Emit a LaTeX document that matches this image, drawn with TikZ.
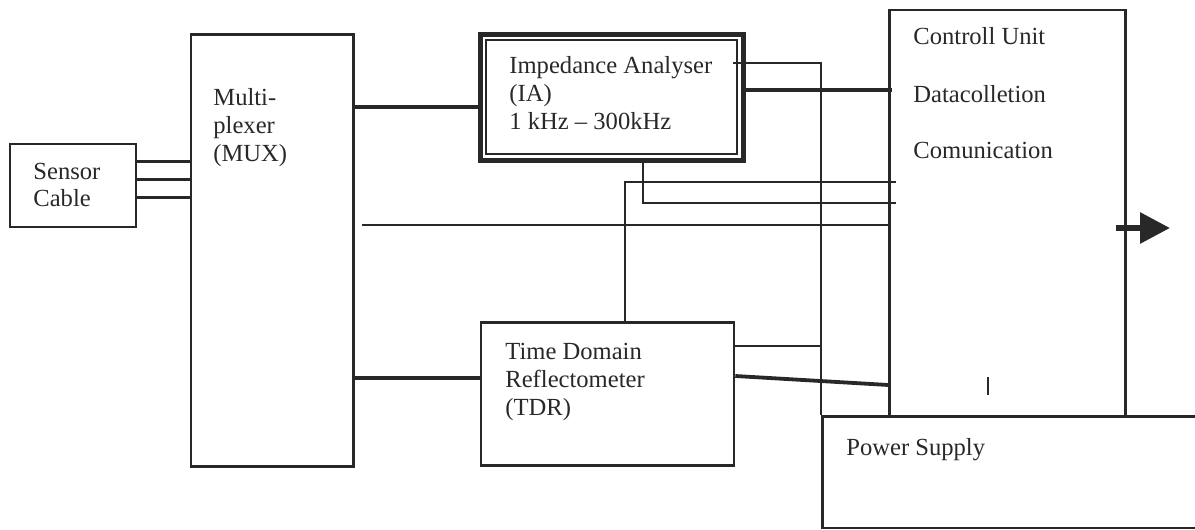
\documentclass[tikz,border=0pt]{standalone}
\usepackage{fontspec}
\setmainfont{Liberation Serif}
\usetikzlibrary{fit,arrows.meta}
\definecolor{ink}{RGB}{40,40,40}
\begin{document}
\begin{tikzpicture}[x=0.5pt,y=-0.5pt,
  box/.style={draw=ink,line width=1.3pt,inner sep=0pt},
  heavybox/.style={draw=ink,line width=2.5pt,inner sep=0pt},
  innerbox/.style={draw=ink,line width=1.1pt,inner sep=0pt},
  lbl/.style={anchor=base west,inner sep=0pt,text=ink,font=\fontsize{12.3}{14}\selectfont},
  wire/.style={draw=ink,line width=0.85pt},
  pairline/.style={draw=ink,line width=1.5pt},
  bus/.style={draw=ink,line width=1.9pt},
  outarrow/.style={draw=ink,fill=ink,line width=3pt,-{Triangle[length=15pt,width=15pt]}}]
\clip (0,0) rectangle (1195,530);

% blocks
\node[box,fit={(10,144)(136,227)}] (sensor) {};
\node[box,fit={(191,34.5)(353.5,466.5)}] (mux) {};
\node[heavybox,fit={(480.5,34.5)(743.5,160.5)}] (ia) {};
\node[innerbox,fit={(486,40)(737,154)}] (iain) {};
\node[box,fit={(481,322.5)(734,465.5)}] (tdr) {};
\node[box,fit={(889.5,10)(1125.5,416.5)}] (cu) {};
\node[box,fit={(822.5,416.5)(1215,528)}] (ps) {};

% labels
\node[lbl] (t1) at (33,179) {Sensor};
\node[lbl] (t2) at (33,206) {Cable};
\node[lbl] (t3) at (213,105) {Multi-};
\node[lbl] (t4) at (213,133) {plexer};
\node[lbl] (t5) at (213,161) {(MUX)};
\node[lbl] (t6) at (509,73) {Impedance Analyser};
\node[lbl] (t7) at (509,101) {(IA)};
\node[lbl] (t8) at (509,129) {1 kHz – 300kHz};
\node[lbl] (t9) at (505,359) {Time Domain};
\node[lbl] (t10) at (505,387) {Reflectometer};
\node[lbl] (t11) at (505,415) {(TDR)};
\node[lbl] (t12) at (913,45) {Controll Unit};
\node[lbl] (t13) at (913,102) {Datacolletion};
\node[lbl] (t14) at (913,158) {Comunication};
\node[lbl] (t15) at (846,455) {Power Supply};

% sensor cable to multiplexer
\foreach \y [count=\i] in {161,179,197} {
  \coordinate (s\i) at (0,\y);
  \draw[pairline] (sensor.east |- s\i) -- (mux.west |- s\i);
}

% level and routing points
\coordinate (yia) at (0,107);
\coordinate (ytdr) at (0,378);
\coordinate (ymid) at (362,225);
\coordinate (ycu) at (0,90);
\coordinate (ypow) at (733,63);
\coordinate (yia2) at (643,203);
\coordinate (ytd2) at (625,182);
\coordinate (yt3) at (0,346);
\coordinate (yt4a) at (0,376);
\coordinate (yt4b) at (0,385);
\coordinate (tick) at (988,377);
\coordinate (out) at (1170,228);

% multiplexer outputs
\draw[bus] (mux.east |- yia) -- (ia.west |- yia);
\draw[bus] (mux.east |- ytdr) -- (tdr.west |- ytdr);
\draw[wire] (ymid) -- (cu.west |- ymid);

% impedance analyser links
\draw[bus] (ia.east |- ycu) -- ([xshift=2pt]cu.west |- ycu);
\draw[wire] (ypow) -- (ps.north west |- ypow) -- (ps.north west);
\draw[wire] (ia.south -| yia2) -- (yia2) -- ([xshift=4pt]cu.west |- yia2);

% time domain reflectometer links
\draw[wire] (tdr.north -| ytd2) -- (ytd2) -- ([xshift=4pt]cu.west |- ytd2);
\draw[wire] (tdr.east |- yt3) -- (ps.north west |- yt3);
\draw[bus] (tdr.east |- yt4a) -- (cu.west |- yt4b);

% control unit details
\draw[wire] (tick) -- ++(0,18);
\draw[outarrow] ([xshift=-5.5pt]cu.east |- out) -- (out);
\end{tikzpicture}
\end{document}
